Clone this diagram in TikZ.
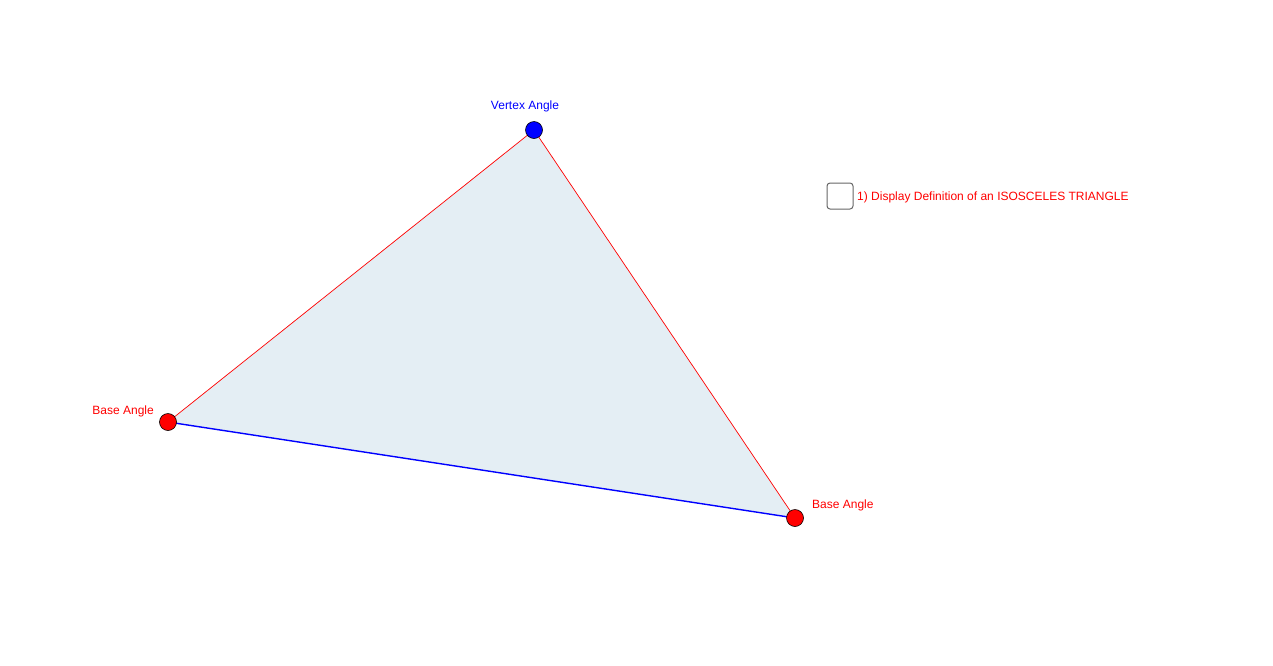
\documentclass[tikz,border=0pt]{standalone}
\usepackage{fontspec}
\setmainfont{Liberation Sans}
\definecolor{tri}{RGB}{228,238,244}
\definecolor{gred}{RGB}{255,0,0}
\definecolor{gblue}{RGB}{0,0,255}
\tikzset{
  pt/.style={circle,draw=black,line width=0.6pt,minimum size=17pt,inner sep=0pt},
  lbl/.style={font=\fontsize{12}{14}\selectfont,inner sep=0pt},
}
\begin{document}
\begin{tikzpicture}[x=1pt,y=-1pt]
\useasboundingbox (0,0) rectangle (1273,665);
\coordinate (V) at (534,130);
\coordinate (L) at (168,422);
\coordinate (R) at (795,518);
\fill[tri] (V) -- (L) -- (R) -- cycle;
\draw[gred,line width=0.7pt] (L) -- (V) -- (R);
\draw[gblue,line width=1.4pt] (L) -- (R);
\node[pt,fill=gblue] (v) at (V) {};
\node[pt,fill=gred] (l) at (L) {};
\node[pt,fill=gred] (r) at (R) {};
\node[lbl,text=gblue] (vl) at (525,106.5) {Vertex Angle};
\node[lbl,text=gred,anchor=east] (ll) at (154,411.5) {Base Angle};
\node[lbl,text=gred,anchor=west] (rl) at (812,505.5) {Base Angle};
\draw[gray!80!black,line width=1pt,rounded corners=3pt] (827,183) rectangle (853,209);
\node[lbl,text=gred,anchor=west] (cb) at (857,197.5) {1) Display Definition of an ISOSCELES TRIANGLE};
\end{tikzpicture}
\end{document}
